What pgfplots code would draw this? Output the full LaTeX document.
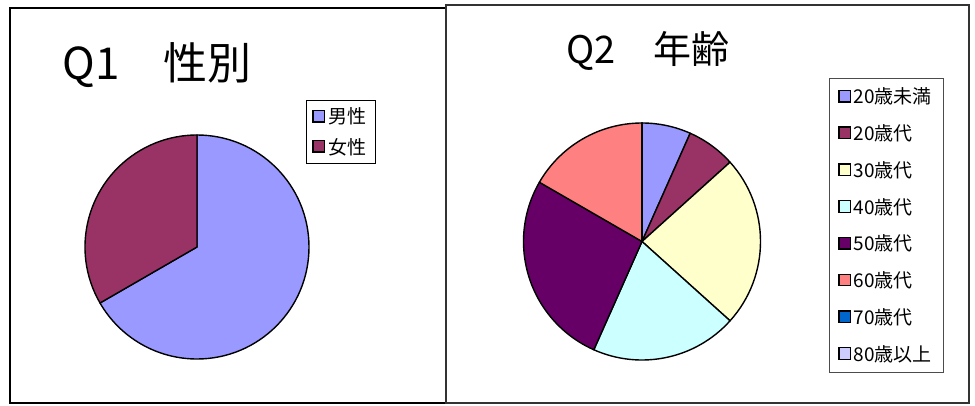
\documentclass[border=0pt]{standalone}
\usepackage{fontspec}
\setmainfont{Noto Sans CJK JP}
\usepackage{pgfplots}
\pgfplotsset{compat=1.18}

\definecolor{cA}{HTML}{9999FF}
\definecolor{cB}{HTML}{993366}
\definecolor{cC}{HTML}{FFFFCC}
\definecolor{cD}{HTML}{CCFFFF}
\definecolor{cE}{HTML}{660066}
\definecolor{cF}{HTML}{FF8080}
\definecolor{cG}{HTML}{0066CC}
\definecolor{cH}{HTML}{CCCCFF}

% one slice: cx, cy, r, value, colour (clockwise from 12 o'clock)
\newcommand\pieslice[5]{%
  \pgfmathsetmacro\pa{90-360*\piecum/\pietotal}%
  \pgfmathsetmacro\piecumnew{\piecum+#4}%
  \pgfmathsetmacro\pb{90-360*\piecumnew/\pietotal}%
  \global\let\piecum\piecumnew
  \edef\pietemp{\noexpand\filldraw[fill=#5, draw=black, line width=1.4pt, line join=round]
    (axis cs:#1,#2) -- ++(\pa:#3pt) arc[start angle=\pa, end angle=\pb, radius=#3pt] -- cycle;}%
  \pietemp
}

\pgfplotsset{
  piebase/.style={
    x=1pt, y=1pt, xmin=0, xmax=975, ymin=0, ymax=405,
    hide axis, clip=false,
    legend image code/.code={\draw[##1, draw=black, line width=1.3pt] (0pt,-5.25pt) rectangle (11.5pt,6.25pt);},
    legend cell align=left,
  },
}

\begin{document}
\begin{tikzpicture}
\path[use as bounding box] (0,0) rectangle (975pt,405pt);

% ---------------- Q1 ----------------
\begin{axis}[piebase,
  legend style={at={(0.3138,0.7531)}, anchor=north west, draw=black, line width=0.8pt,
    fill=white, font=\fontsize{19}{19}\selectfont, inner xsep=6pt, inner ysep=7.5pt,
    row sep=12.8pt, nodes={inner xsep=3pt, inner ysep=0pt}},
]
\draw[black, line width=1.3pt] (axis cs:10,2) rectangle (axis cs:446,397);
\node[anchor=base west, font=\fontsize{44}{50}\selectfont] at (axis cs:59,325) {Q1　性別};
\def\pietotal{30}\def\piecum{0}
\pieslice{197}{158}{112}{20}{cA}
\pieslice{197}{158}{112}{10}{cB}
\addlegendimage{fill=cA}\addlegendentry{男性}
\addlegendimage{fill=cB}\addlegendentry{女性}
\end{axis}

% ---------------- Q2 ----------------
\begin{axis}[piebase,
  legend style={at={(0.8503,0.8074)}, anchor=north west, draw=black!70, line width=0.8pt,
    fill=white, font=\fontsize{19}{19}\selectfont,
    inner xsep=9pt, inner ysep=9.5pt,
    row sep=19.3pt, nodes={inner xsep=2.5pt, inner ysep=0pt}},
]
\draw[black!80, line width=1.3pt] (axis cs:446,2) rectangle (axis cs:969,400);
\node[anchor=base, font=\fontsize{38}{44}\selectfont] at (axis cs:648,341) {Q2　年齢};
\def\pietotal{30}\def\piecum{0}
\pieslice{642}{163.5}{118.5}{2}{cA}
\pieslice{642}{163.5}{118.5}{2}{cB}
\pieslice{642}{163.5}{118.5}{7}{cC}
\pieslice{642}{163.5}{118.5}{6}{cD}
\pieslice{642}{163.5}{118.5}{8}{cE}
\pieslice{642}{163.5}{118.5}{5}{cF}
\pieslice{642}{163.5}{118.5}{0}{cG}
\pieslice{642}{163.5}{118.5}{0}{cH}
\addlegendimage{fill=cA}\addlegendentry{20歳未満}
\addlegendimage{fill=cB}\addlegendentry{20歳代}
\addlegendimage{fill=cC}\addlegendentry{30歳代}
\addlegendimage{fill=cD}\addlegendentry{40歳代}
\addlegendimage{fill=cE}\addlegendentry{50歳代}
\addlegendimage{fill=cF}\addlegendentry{60歳代}
\addlegendimage{fill=cG}\addlegendentry{70歳代}
\addlegendimage{fill=cH}\addlegendentry{80歳以上}
\end{axis}
\end{tikzpicture}
\end{document}
